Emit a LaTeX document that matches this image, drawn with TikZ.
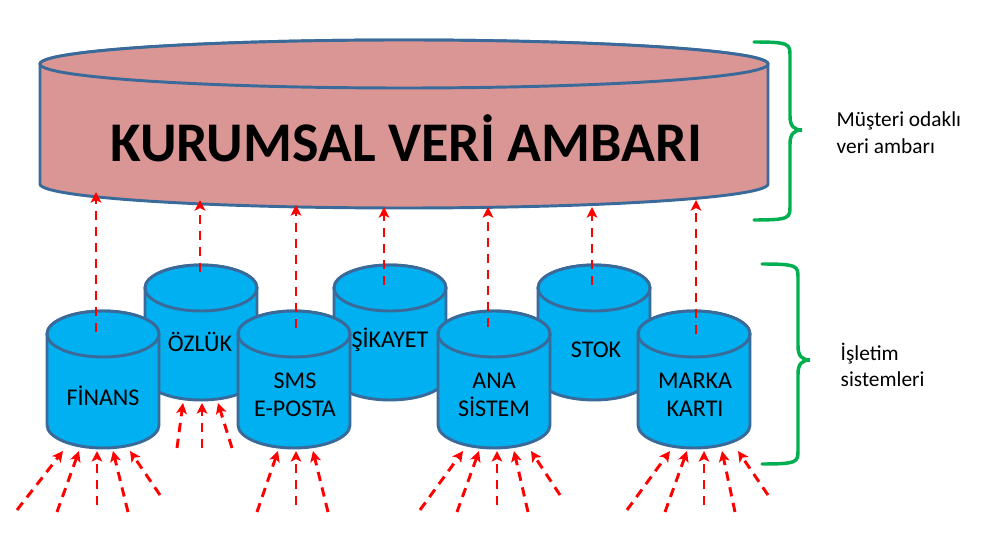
\documentclass[tikz,border=0pt]{standalone}
\usepackage{fontspec}
\setmainfont{Carlito}
\usetikzlibrary{arrows.meta}
\definecolor{cylblue}{HTML}{00B0F0}
\definecolor{cylline}{HTML}{3A6A9A}
\definecolor{bigfill}{HTML}{D99694}
\definecolor{brgreen}{HTML}{00B050}
\tikzset{
  cylst/.style={draw=cylline,line width=2.2pt,fill=#1},
  feed/.style={red,dashed,dash pattern=on 7pt off 5pt,line width=2.2pt,-{Stealth[length=8pt,width=8pt,inset=2pt]}},
  lbl/.style={font=\fontsize{18}{21}\selectfont,align=center},
  side/.style={font=\fontsize{16}{20}\selectfont,align=left,anchor=west},
  brace/.style={draw=brgreen,line width=2.6pt,line cap=round},
}
\newcommand{\dbcyl}[6]{%
  \path[cylst=#6] ({#1-#4},#2) -- ({#1-#4},#3) arc[start angle=180,end angle=0,x radius=#4,y radius=#5] -- ({#1+#4},#2) arc[start angle=0,end angle=-180,x radius=#4,y radius=#5] -- cycle;
  \draw[cylst=#6] (#1,#2) ellipse[x radius=#4,y radius=#5];}
\begin{document}
\begin{tikzpicture}[x=0.75pt,y=-0.75pt]
\useasboundingbox (0,0) rectangle (998,541);
% big warehouse
\dbcyl{404}{64}{184}{364}{24}{bigfill}
\node[font=\bfseries\fontsize{42}{46}\selectfont] (kva) at (406,138) {KURUMSAL VERİ AMBARI};
% back row
\dbcyl{201}{288}{377}{56}{23}{cylblue}
\dbcyl{390}{288}{377}{56}{23}{cylblue}
\dbcyl{594}{288}{377}{56}{23}{cylblue}
\node[lbl] (ozluk) at (200,342) {ÖZLÜK};
\node[lbl] (sikayet) at (390,340) {ŞİKAYET};
\node[lbl] (stok) at (596,350) {STOK};
% arrows from back row
\draw[feed] (200,272) -- (200,200);
\draw[feed] (384,285) -- (384,207);
\draw[feed] (592,285) -- (592,207);
\foreach \a/\b in {177/183,202/202,232/218}{\draw[feed] (\a,448) -- (\b,403);}
% front row
\dbcyl{103}{334}{425}{56}{23}{cylblue}
\dbcyl{294}{334}{425}{56}{23}{cylblue}
\dbcyl{494}{334}{425}{56}{23}{cylblue}
\dbcyl{694}{334}{425}{56}{23}{cylblue}
\node[lbl] (finans) at (103,396) {FİNANS};
\node[lbl] (sms) at (295,395) {SMS\\E-POSTA};
\node[lbl] (ana) at (494,395) {ANA\\SİSTEM};
\node[lbl] (marka) at (695,395) {MARKA\\KARTI};
\draw[feed] (96,332) -- (96,192);
\draw[feed] (296,328) -- (296,205);
\draw[feed] (488,327) -- (488,207);
\draw[feed] (696,334) -- (696,200);
% incoming feeds
\foreach \sx/\sy/\ex in {17/510/63,57/512/79,97/505/97,128/512/113,160/495/130,
  257/512/278,296/505/296,328/512/313,
  420/510/463,457/512/479,497/505/497,528/512/514,560/495/531,
  627/510/670,665/512/687,704/505/704,735/512/722,768/495/738}{\draw[feed] (\sx,\sy) -- (\ex,451);}
% braces
\draw[brace] (754,42) .. controls (790,42) and (790,44) .. (790,56) -- (790,116) .. controls (790,126) and (794,130) .. (802,130) .. controls (794,130) and (790,134) .. (790,144) -- (790,206) .. controls (790,218) and (790,220) .. (754,220);
\draw[brace] (762,264) .. controls (798,264) and (798,266) .. (798,278) -- (798,346) .. controls (798,356) and (802,360) .. (810,360) .. controls (802,360) and (798,364) .. (798,374) -- (798,450) .. controls (798,462) and (798,464) .. (762,464);
\node[side] (must) at (832,133) {Müşteri odaklı\\veri ambarı};
\node[side] (islet) at (836,365) {İşletim\\sistemleri};
\end{tikzpicture}
\end{document}
